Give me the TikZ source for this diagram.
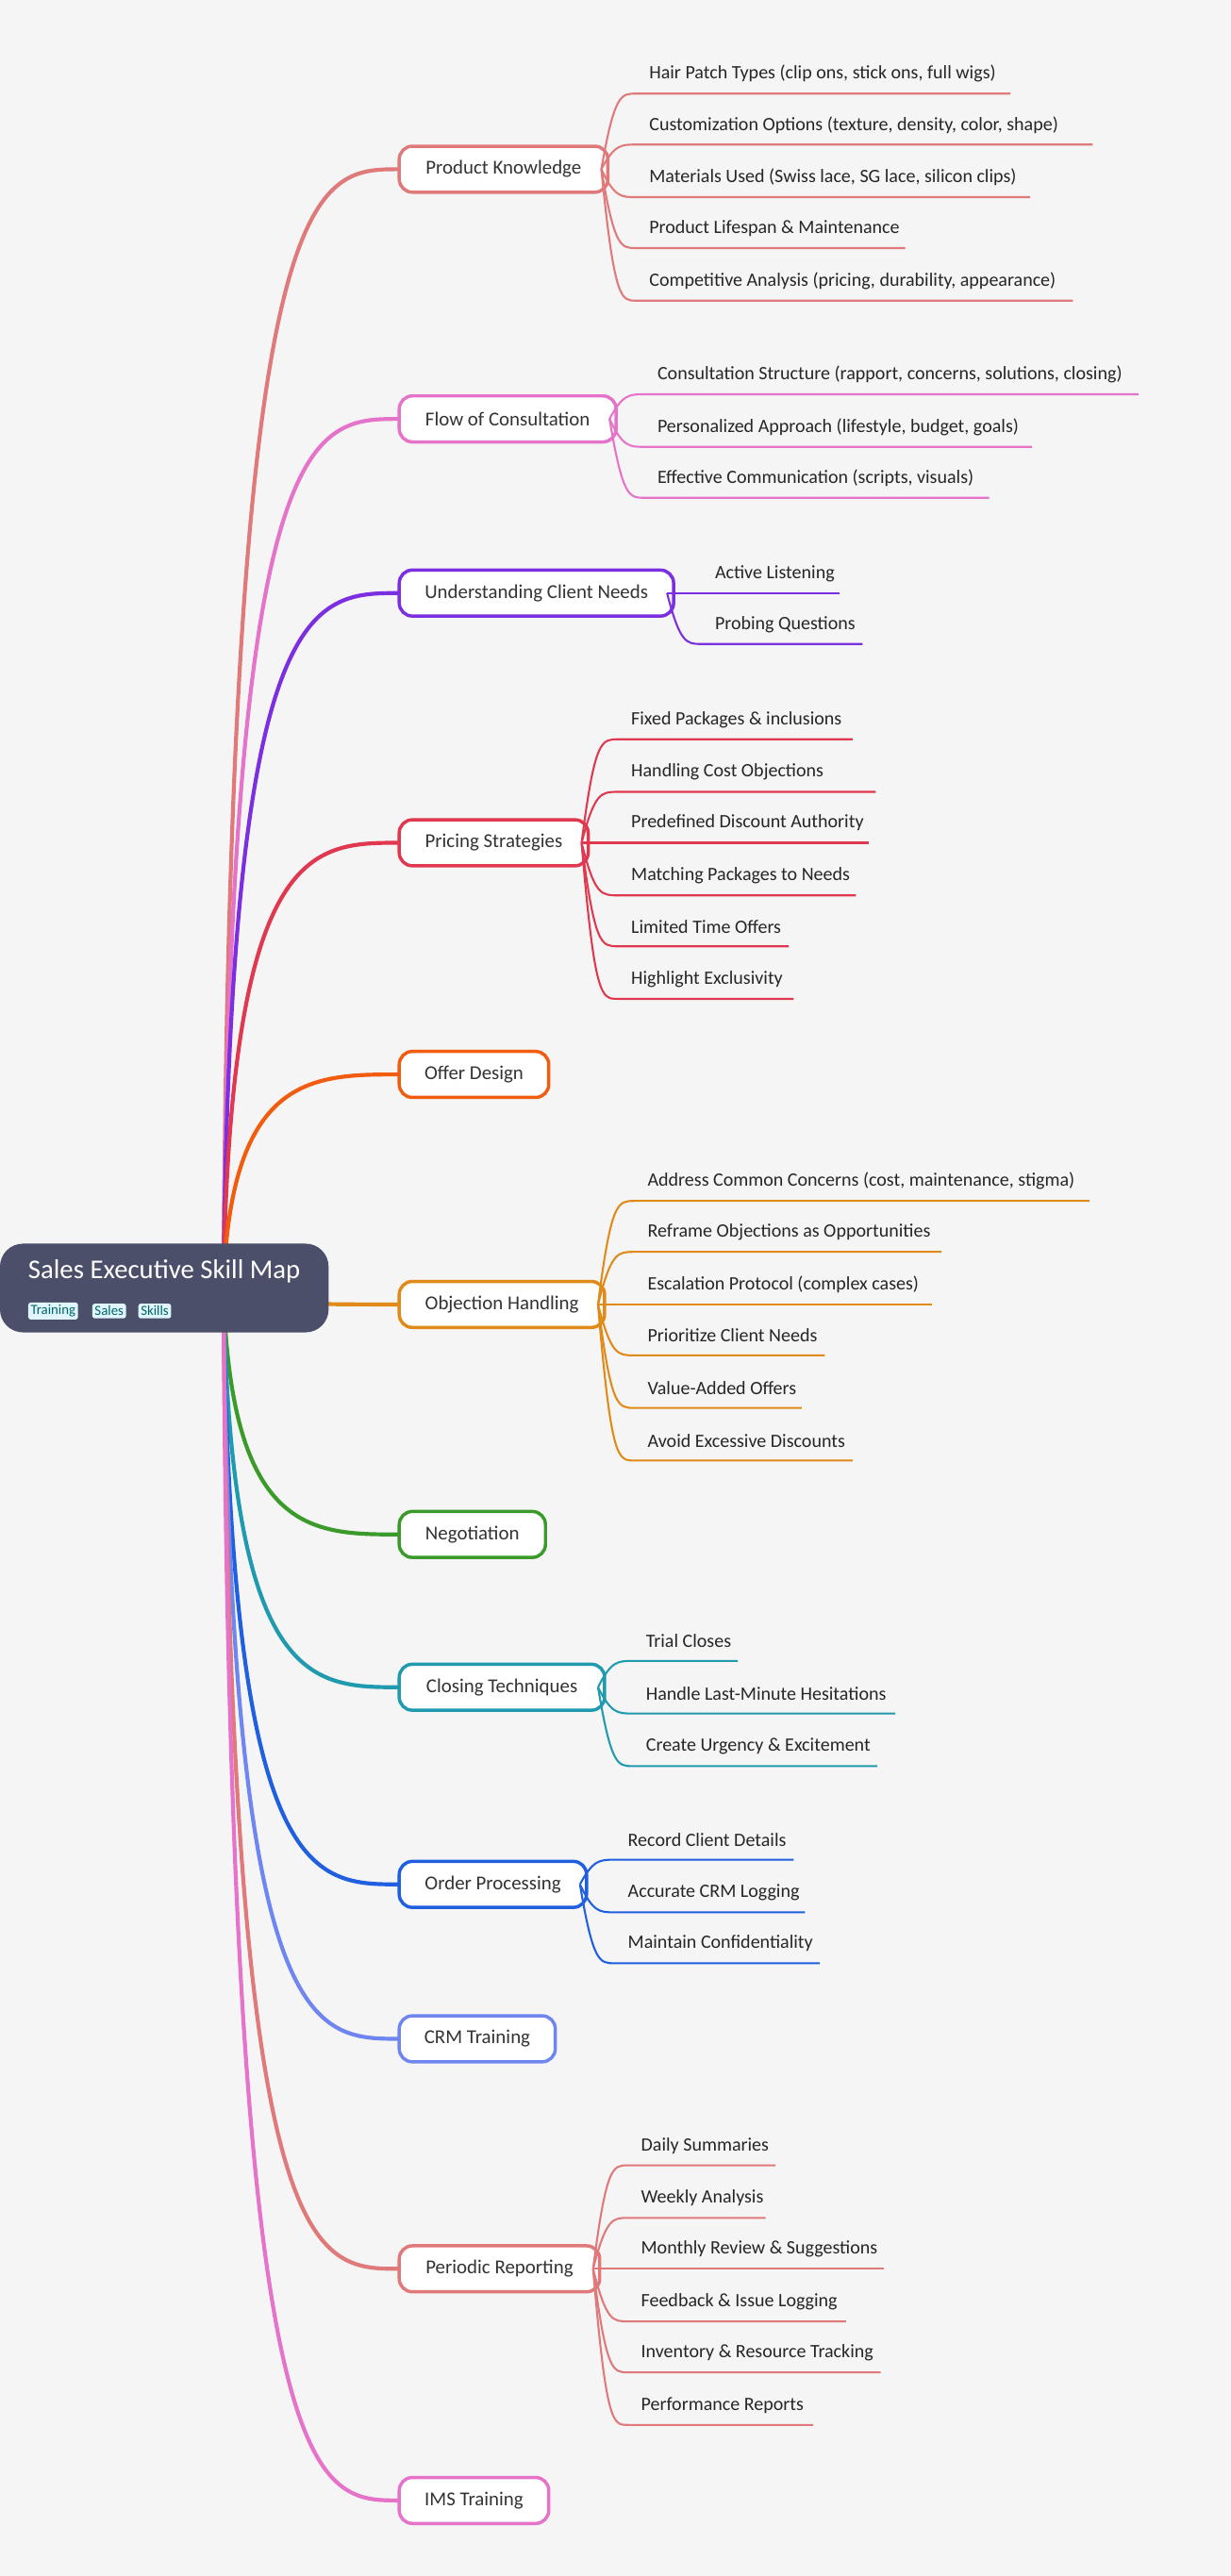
\documentclass[tikz,border=0pt]{standalone}
\usepackage{fontspec}
\setmainfont{Carlito}
\begin{document}
\begin{tikzpicture}[x=1pt,y=-1pt,
  mainbox/.style={draw=#1,line width=2pt,fill=white,rounded corners=8pt,minimum height=28pt,inner sep=0pt,font=\fontsize{12}{14}\selectfont,text=black!80},
  leaf/.style={anchor=west,inner sep=0pt,font=\fontsize{11.5}{14}\selectfont,text=black!85},
  tag/.style={fill=cyan!12,text=teal!80!black,rounded corners=1.5pt,inner sep=1.5pt,font=\fontsize{8.5}{10}\selectfont,anchor=west}]
\useasboundingbox[fill=black!4] (0,0) rectangle (749,1568);
\definecolor{cA}{HTML}{E07A7A}\definecolor{cB}{HTML}{E573C9}\definecolor{cC}{HTML}{7B2FE0}
\definecolor{cD}{HTML}{E0384F}\definecolor{cE}{HTML}{F25C0F}\definecolor{cF}{HTML}{E08A1A}
\definecolor{cG}{HTML}{3A9A2A}\definecolor{cH}{HTML}{1F9AAF}\definecolor{cI}{HTML}{1F5FE0}
\definecolor{cJ}{HTML}{6F86F0}\definecolor{root}{HTML}{4B4F6A}
\coordinate (rc) at (136,784);
% branch macro: name, y, right x, colour, label
\newcommand\branch[5]{%
  \draw[#4,line width=2.4pt] (rc) .. controls (140,#2) and (190,#2) .. (243,#2);
  \node[mainbox=#4,minimum width=#3pt-243pt] (#1) at ({(243+#3)/2},#2) {#5};}
\newcommand\leafnode[7]{% parent, right x of parent, parent y, text x, text y, end x, label ; colour via \lc
  \node[leaf] (#1-#5) at (#4,#5) {#7};
  \draw[\lc,line width=1.2pt] (#2-4,#3) .. controls (#2+4,#5+12) and (#2+8,#5+12) .. (#4-8,#5+12) -- (#6,#5+12);}
\branch{pk}{103}{370}{cA}{Product Knowledge}
\branch{fc}{255}{375}{cB}{Flow of Consultation}
\branch{uc}{361}{410}{cC}{Understanding Client Needs}
\branch{ps}{513}{358}{cD}{Pricing Strategies}
\branch{od}{654}{334}{cE}{Offer Design}
\branch{oh}{794}{368}{cF}{Objection Handling}
\branch{ng}{934}{332}{cG}{Negotiation}
\branch{ct}{1027}{368}{cH}{Closing Techniques}
\branch{op}{1147}{357}{cI}{Order Processing}
\branch{crm}{1241}{338}{cJ}{CRM Training}
\branch{pr}{1381}{365}{cA}{Periodic Reporting}
\branch{ims}{1522}{334}{cB}{IMS Training}
\node[fill=root,rounded corners=14pt,minimum width=200pt,minimum height=54pt,inner sep=0pt] (rootn) at (100,784) {};
\node[anchor=west,text=white,inner sep=0pt,font=\fontsize{16.5}{18}\selectfont] (title) at (17,774) {Sales Executive Skill Map};
\node[tag] (t1) at (17,798) {Training};
\node[tag] (t2) at (56,798) {Sales};
\node[tag] (t3) at (84,798) {Skills};
\def\lc{cA}
\leafnode{a}{370}{103}{395}{45}{615}{Hair Patch Types (clip ons, stick ons, full wigs)}
\leafnode{a}{370}{103}{395}{76}{665}{Customization Options (texture, density, color, shape)}
\leafnode{a}{370}{103}{395}{108}{627}{Materials Used (Swiss lace, SG lace, silicon clips)}
\leafnode{a}{370}{103}{395}{139}{551}{Product Lifespan \& Maintenance}
\leafnode{a}{370}{103}{395}{171}{653}{Competitive Analysis (pricing, durability, appearance)}
\def\lc{cB}
\leafnode{b}{375}{255}{400}{228}{693}{Consultation Structure (rapport, concerns, solutions, closing)}
\leafnode{b}{375}{255}{400}{260}{628}{Personalized Approach (lifestyle, budget, goals)}
\leafnode{b}{375}{255}{400}{291}{602}{Effective Communication (scripts, visuals)}
\def\lc{cC}
\leafnode{c}{410}{361}{435}{349}{511}{Active Listening}
\leafnode{c}{410}{361}{435}{380}{525}{Probing Questions}
\def\lc{cD}
\leafnode{d}{358}{513}{384}{438}{519}{Fixed Packages \& inclusions}
\leafnode{d}{358}{513}{384}{470}{533}{Handling Cost Objections}
\leafnode{d}{358}{513}{384}{501}{529}{Predefined Discount Authority}
\leafnode{d}{358}{513}{384}{533}{521}{Matching Packages to Needs}
\leafnode{d}{358}{513}{384}{564}{480}{Limited Time Offers}
\leafnode{d}{358}{513}{384}{596}{483}{Highlight Exclusivity}
\def\lc{cF}
\leafnode{f}{368}{794}{394}{719}{663}{Address Common Concerns (cost, maintenance, stigma)}
\leafnode{f}{368}{794}{394}{750}{573}{Reframe Objections as Opportunities}
\leafnode{f}{368}{794}{394}{782}{567}{Escalation Protocol (complex cases)}
\leafnode{f}{368}{794}{394}{813}{502}{Prioritize Client Needs}
\leafnode{f}{368}{794}{394}{845}{488}{Value-Added Offers}
\leafnode{f}{368}{794}{394}{877}{519}{Avoid Excessive Discounts}
\def\lc{cH}
\leafnode{h}{368}{1027}{393}{999}{449}{Trial Closes}
\leafnode{h}{368}{1027}{393}{1031}{545}{Handle Last-Minute Hesitations}
\leafnode{h}{368}{1027}{393}{1063}{534}{Create Urgency \& Excitement}
\def\lc{cI}
\leafnode{i}{357}{1147}{382}{1120}{483}{Record Client Details}
\leafnode{i}{357}{1147}{382}{1152}{490}{Accurate CRM Logging}
\leafnode{i}{357}{1147}{382}{1183}{499}{Maintain Confidentiality}
\def\lc{cA}
\leafnode{k}{365}{1381}{390}{1306}{472}{Daily Summaries}
\leafnode{k}{365}{1381}{390}{1338}{466}{Weekly Analysis}
\leafnode{k}{365}{1381}{390}{1369}{538}{Monthly Review \& Suggestions}
\leafnode{k}{365}{1381}{390}{1401}{515}{Feedback \& Issue Logging}
\leafnode{k}{365}{1381}{390}{1432}{536}{Inventory \& Resource Tracking}
\leafnode{k}{365}{1381}{390}{1464}{495}{Performance Reports}
\end{tikzpicture}
\end{document}
